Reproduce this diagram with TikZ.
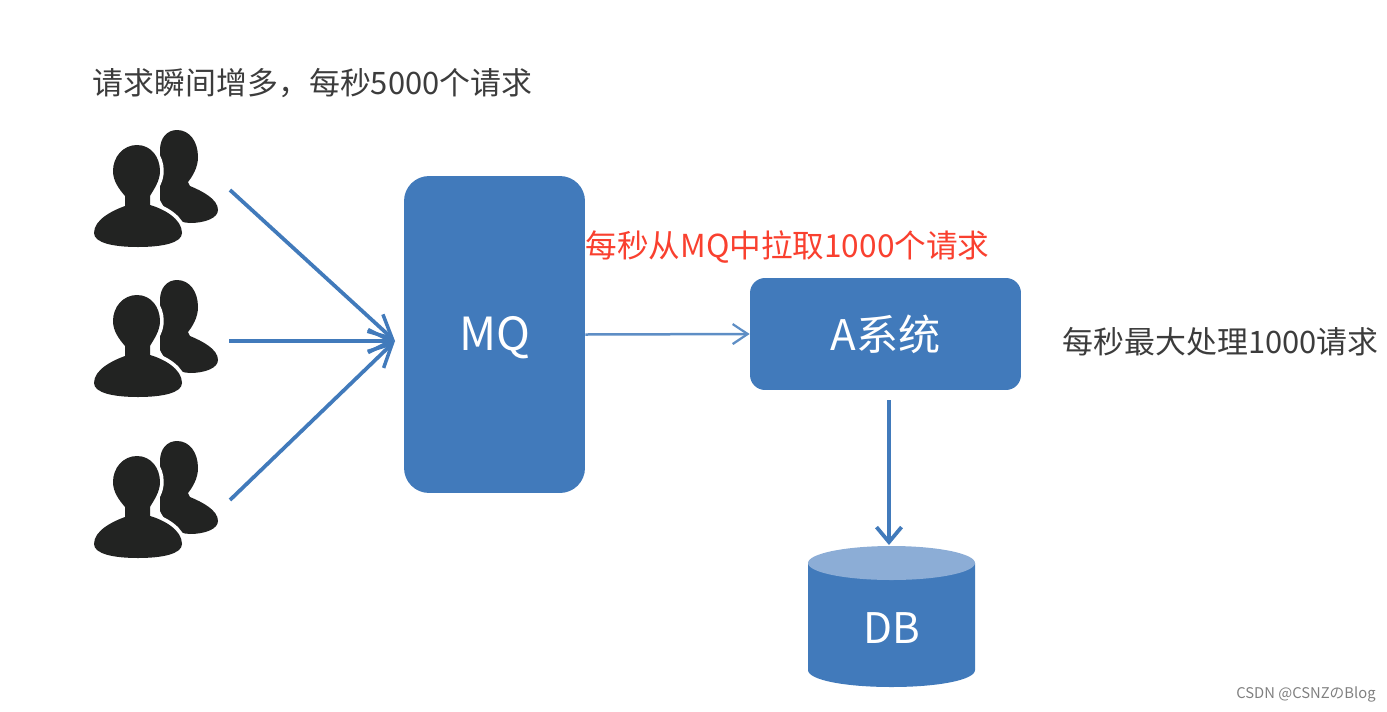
\documentclass[tikz,border=0pt]{standalone}
\usepackage{fontspec}
\setmainfont{Noto Sans CJK SC}
\usetikzlibrary{arrows.meta}
\definecolor{boxblue}{HTML}{417ABB}
\definecolor{dbtop}{HTML}{8CADD6}
\definecolor{iconblack}{HTML}{222322}
\definecolor{notered}{HTML}{F9402F}
\definecolor{notegray}{HTML}{3C3C3C}
\newcommand{\frontperson}{(43,15) .. controls (57,15) and (66,27) .. (66,41) .. controls (66,51) and (60,59) .. (56,66)
      -- (56,75) .. controls (70,79) and (88,89) .. (88,103) .. controls (88,113) and (68,117) .. (44,117)
      .. controls (20,117) and (0,113) .. (0,103) .. controls (0,89) and (20,80) .. (31,76)
      -- (31,66) .. controls (25,59) and (19,51) .. (19,41) .. controls (19,27) and (29,15) .. (43,15) -- cycle}
\tikzset{
  usericon/.pic={
    % person behind
    \fill[iconblack] (83,0) .. controls (96,0) and (104,12) .. (104,27) .. controls (104,38) and (98,47) .. (94,52)
      -- (96,56) .. controls (108,61) and (124,69) .. (124,80) .. controls (124,88) and (111,93) .. (96,93)
      .. controls (81,93) and (71,80) .. (66,70) -- (66,20) .. controls (66,8) and (73,0) .. (83,0) -- cycle;
    % person in front, white rim
    \draw[white,line width=0.15cm,line join=round] \frontperson;
    \fill[iconblack] \frontperson;
  },
  bluebox/.style={fill=boxblue,rounded corners=0.5cm,text=white,font=\fontsize{24}{28}\selectfont,inner sep=0pt},
  notelabel/.style={text=notegray,font=\fontsize{17.6}{20}\selectfont,inner sep=0pt},
  flowarrow/.style={boxblue,line width=0.075cm,-{Straight Barb[length=0.3cm,width=0.5cm,line width=0.075cm]}},
  inarrow/.style={boxblue,line width=0.075cm,-{Straight Barb[length=0.46cm,width=0.46cm,line width=0.07cm]}},
}
\begin{document}
\begin{tikzpicture}[x=0.02cm,y=-0.02cm]
\useasboundingbox (0,0) rectangle (1387,711);
% top note
\node[notelabel] (burstnote) at (312.5,83) {请求瞬间增多，每秒5000个请求};
% users
\foreach \u in {130,280,441}{\pic at (94,\u) {usericon};}
\coordinate (userA) at (230,190);
\coordinate (userB) at (229,341);
\coordinate (userC) at (230,500);
\coordinate (mqin) at (395,341);
% boxes
\node[bluebox,minimum width=3.62cm,minimum height=6.34cm] (mq) at (494.5,334.5) {\raisebox{-9pt}[0pt][0pt]{\fontsize{26}{28}\selectfont MQ}};
\node[bluebox,rounded corners=0.3cm,minimum width=5.42cm,minimum height=2.24cm] (asys) at (885.5,334) {A系统};
% database
\fill[boxblue] (808,563) -- (808,670) .. controls (808,680) and (845,687) .. (891.5,687)
  .. controls (938,687) and (975,680) .. (975,670) -- (975,563) -- cycle;
\fill[dbtop] (891.5,563) ellipse [x radius=83.5,y radius=17];
\node[text=white,font=\fontsize{24}{28}\selectfont,inner sep=0pt] (db) at (891.5,628) {DB};
% notes
\node[notelabel,text=notered,font=\fontsize{18}{20}\selectfont] (pullnote) at (787.5,247) {每秒从MQ中拉取1000个请求};
\node[notelabel] (limitnote) at (1220.5,342) {每秒最大处理1000请求};
\node[text=gray,font=\fontsize{8.4}{9}\selectfont,inner sep=0pt] (mark) at (1306,694) {CSDN @CSNZのBlog};
% arrows into MQ
\foreach \s in {userA,userB,userC}{\draw[inarrow] (\s) -- (mqin);}
% MQ to A
\draw[boxblue!85!white,line width=0.05cm,-{Straight Barb[length=0.3cm,width=0.4cm,line width=0.045cm]}] (mq.east) -- (asys.west);
% A to DB
\coordinate (asysout) at (889,400);
\coordinate (dbin) at (889,545);
\draw[flowarrow] (asysout) -- (dbin);
\end{tikzpicture}
\end{document}
